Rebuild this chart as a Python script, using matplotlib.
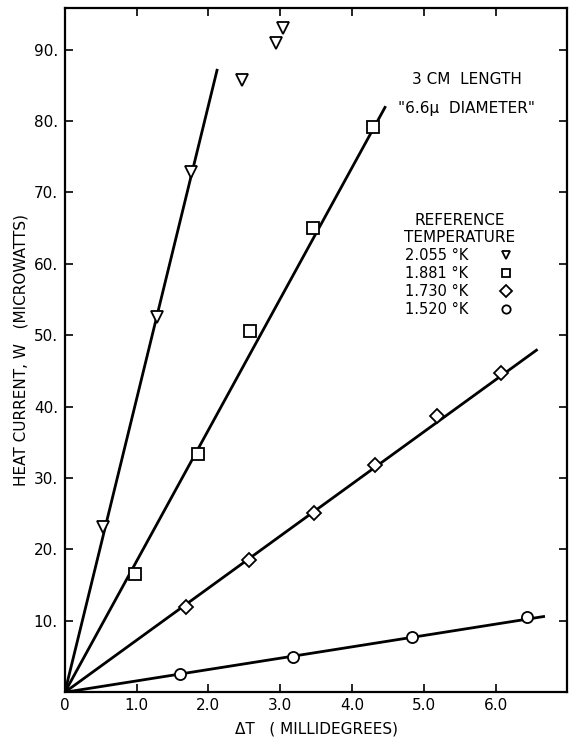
import numpy as np
import matplotlib.pyplot as plt

# Data
t2055_x = [0.53, 1.28, 1.76, 2.47, 2.94, 3.04]
t2055_y = [23.1, 52.5, 72.8, 85.8, 90.9, 93.0]

t1881_x = [0.98, 1.85, 2.58, 3.46, 4.30]
t1881_y = [16.5, 33.3, 50.6, 65.0, 79.1]

t1730_x = [1.69, 2.57, 3.47, 4.32, 5.19, 6.07]
t1730_y = [11.9, 18.5, 25.1, 31.8, 38.7, 44.7]

t1520_x = [1.60, 3.18, 4.84, 6.44]
t1520_y = [2.5, 5.0, 7.7, 10.5]

# fitted straight lines through the origin (end points)
fit_x_end = [2.12, 4.46, 6.57, 6.67]
fit_y_end = [87.1, 81.9, 47.9, 10.6]

labels = ["2.055 °K", "1.881 °K", "1.730 °K", "1.520 °K"]
markers = ["v", "s", "D", "o"]

xticks = [0, 1, 2, 3, 4, 5, 6]
xticklabels = ["0", "1.0", "2.0", "3.0", "4.0", "5.0", "6.0"]
yticks = [10, 20, 30, 40, 50, 60, 70, 80, 90]
yticklabels = ["10.", "20.", "30.", "40.", "50.", "60.", "70.", "80.", "90."]

plt.rcParams['font.family'] = ['DejaVu Sans']

fig = plt.figure(figsize=(5.69, 7.38), dpi=100)
ax = fig.add_axes([0.114, 0.062, 0.883, 0.927])

series = [(t2055_x, t2055_y), (t1881_x, t1881_y), (t1730_x, t1730_y), (t1520_x, t1520_y)]
handles = []
for (xs, ys), xe, ye, m, lab in zip(series, fit_x_end, fit_y_end, markers, labels):
    ax.plot([0, xe], [0, ye], color='black', lw=2.0, zorder=2)
    ms = 8 if m != "D" else 7.5
    h, = ax.plot(xs, ys, linestyle='none', marker=m, ms=ms, mfc='white',
                 mec='black', mew=1.3, zorder=3, label=lab)
    handles.append(h)

ax.set_xlim(0, 7.0)
ax.set_ylim(0, 95.8)

ax.set_xticks(xticks)
ax.set_xticklabels(xticklabels)
ax.set_yticks(yticks)
ax.set_yticklabels(yticklabels)
ax.tick_params(direction='in', length=6, width=1.2, top=True, right=True,
               labelsize=11, pad=5)
ax.tick_params(axis='x', pad=4)

for s in ax.spines.values():
    s.set_linewidth(1.6)

ax.set_xlabel("ΔT   ( MILLIDEGREES)", fontsize=11, labelpad=6)
ax.set_ylabel("HEAT CURRENT, W   (MICROWATTS)", fontsize=11, labelpad=4)

ax.text(0.80, 0.895, "3 CM  LENGTH", transform=ax.transAxes, ha='center',
        va='center', fontsize=11)
ax.text(0.80, 0.854, "\"6.6\u03bc  DIAMETER\"", transform=ax.transAxes,
        ha='center', va='center', fontsize=11)

leg = ax.legend(handles=handles, title="REFERENCE\nTEMPERATURE",
                markerfirst=False, frameon=False, loc='upper left',
                bbox_to_anchor=(0.655, 0.716), fontsize=10.5,
                title_fontsize=11, handlelength=1.2, handletextpad=2.0,
                labelspacing=0.2, borderpad=0.2)
leg.get_title().set_multialignment('center')
for lh in leg.legend_handles:
    lh.set_markersize(6)

fig.savefig("out.png", dpi=100)
